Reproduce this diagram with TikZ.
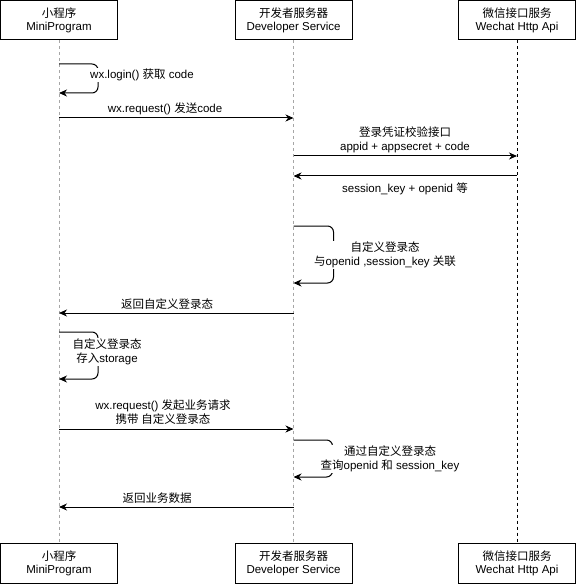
\documentclass[tikz,border=0pt]{standalone}
\usepackage{fontspec}
\setmainfont{Liberation Sans}
\newfontfamily\cjkfont{Noto Sans CJK SC}
\newcommand\zhs[1]{{\cjkfont #1}}
\usetikzlibrary{arrows.meta}
\begin{document}
\begin{tikzpicture}[x=1pt,y=-1pt,
  font=\fontsize{11.5}{13.5}\selectfont,
  actor/.style={draw=black,line width=1pt,fill=white,minimum width=117pt,minimum height=39.5pt,inner sep=0pt,align=center},
  lifegray/.style={draw=black!35,line width=0.8pt,dash pattern=on 3pt off 3pt},
  lifeblack/.style={draw=black,line width=1pt,dash pattern=on 3pt off 3pt},
  msg/.style={draw=black,line width=1pt,-{Stealth[length=8pt,width=7pt,inset=2.5pt]}},
  loopmsg/.style={msg,rounded corners=6pt},
  lbl/.style={fill=white,inner sep=1pt,align=center}]
\useasboundingbox (0,0) rectangle (578,585);

% actors (top and bottom)
\node[actor] (mp)  at (59,20.25)  {\zhs{小程序}\\MiniProgram};
\node[actor] (ds)  at (293.5,20.25) {\zhs{开发者服务器}\\Developer Service};
\node[actor] (wx)  at (517,20.25) {\zhs{微信接口服务}\\Wechat Http Api};
\node[actor] (mpb) at (59,563.5)  {\zhs{小程序}\\MiniProgram};
\node[actor] (dsb) at (293.5,563.5) {\zhs{开发者服务器}\\Developer Service};
\node[actor] (wxb) at (517,563.5) {\zhs{微信接口服务}\\Wechat Http Api};

% lifelines
\draw[lifegray] (mp.south) -- (mpb.north);
\draw[lifegray] (ds.south) -- (dsb.north);
\draw[lifeblack] (wx.south) -- (wxb.north);

% anchor points on lifelines
\foreach \n/\y in {1/64,2/93,3/118,4/313,5/332,6/379,7/429,8/507}{
  \coordinate (m\n) at (mp.south |- 0,\y);}
\foreach \n/\y in {1/118,2/156,3/176,4/226,5/283,6/313,7/429,8/440,9/477,10/507}{
  \coordinate (d\n) at (ds.south |- 0,\y);}
\foreach \n/\y in {1/156,2/176}{
  \coordinate (w\n) at (wx.south |- 0,\y);}

% messages
\draw[loopmsg] (m1) -- ++(39,0) |- (m2);
\node[lbl,anchor=west] (t1) at (89,75) {wx.login() \zhs{获取} code};

\draw[msg] (m3) -- (d1);
\node[lbl] (t2) at (165,109) {wx.request() \zhs{发送}code};

\draw[msg] (d2) -- (w1);
\node[lbl] (t3) at (405,140) {\zhs{登录凭证校验接口}\\appid + appsecret + code};

\draw[msg] (w2) -- (d3);
\node[lbl] (t4) at (405,189) {session\_key + openid \zhs{等}};

\draw[loopmsg] (d4) -- ++(40,0) |- (d5);
\node[lbl] (t5) at (385,255) {\zhs{自定义登录态}\\\zhs{与}openid ,session\_key \zhs{关联}};

\draw[msg] (d6) -- (m4);
\node[lbl] (t6) at (167,304) {\zhs{返回自定义登录态}};

\draw[loopmsg] (m5) -- ++(39,0) |- (m6);
\node[lbl] (t7) at (107,352) {\zhs{自定义登录态}\\\zhs{存入}storage};

\draw[msg] (m7) -- (d7);
\node[lbl] (t8) at (163,412) {wx.request() \zhs{发起业务请求}\\\zhs{携带 自定义登录态}};

\draw[loopmsg] (d8) -- ++(39,0) |- (d9);
\node[lbl] (t9) at (390,459) {\zhs{通过自定义登录态}\\\zhs{查询}openid \zhs{和} session\_key};

\draw[msg] (d10) -- (m8);
\node[lbl] (t10) at (157,498) {\zhs{返回业务数据}};
\end{tikzpicture}
\end{document}
